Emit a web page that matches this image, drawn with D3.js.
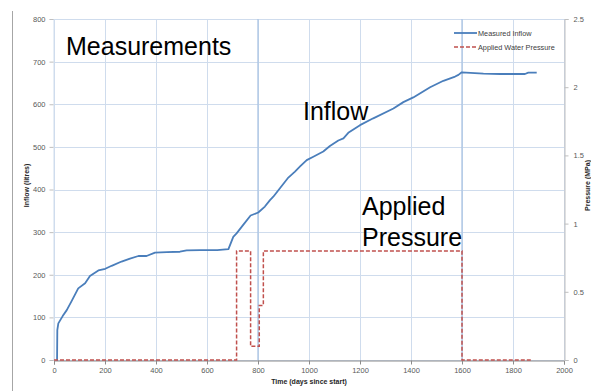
<!DOCTYPE html>
<html>
<head>
<meta charset="utf-8">
<script src="https://cdn.jsdelivr.net/npm/d3@7"></script>
<style>
  html, body { margin: 0; padding: 0; background: #fff; }
  svg { display: block; font-family: "Liberation Sans", Arial, sans-serif; }
</style>
</head>
<body>
<svg id="chart" width="591" height="391"></svg>
<script>
// Cumulative inflow (litres) against time (days since start)
const inflowDays = [10, 12, 13, 17, 34, 50, 69, 95, 122, 141, 174, 201, 226, 265, 298, 331, 363, 396, 442, 494, 520, 573, 640, 684,
  703, 716, 742, 771, 801, 827, 847, 860, 886, 919, 945, 965, 991, 1017, 1056, 1082, 1115, 1135, 1154, 1200, 1252, 1331, 1370,
  1409, 1475, 1527, 1573, 1586, 1599, 1684, 1749, 1847, 1860, 1893];
const inflowLitres = [0, 0, 70, 86, 103, 117, 138, 168, 180, 197, 210, 214, 221, 231, 238, 244, 244, 252, 253, 254, 257, 258, 258, 260,
  289, 297, 317, 339, 346, 360, 375, 383, 403, 428, 442, 454, 469, 477, 489, 502, 515, 520, 533, 551, 567, 590, 605,
  616, 640, 655, 665, 669, 675, 672, 671, 671, 674, 674];

// Applied water pressure (MPa), a stepped schedule
const pressureDays = [0, 716, 716, 771, 771, 805, 805, 821, 821, 1600, 1600, 1873];
const pressureMPa = [0, 0, 0.8, 0.8, 0.1, 0.1, 0.4, 0.4, 0.8, 0.8, 0, 0];

const xTicks = [0, 200, 400, 600, 800, 1000, 1200, 1400, 1600, 1800, 2000];
const leftTicks = [0, 100, 200, 300, 400, 500, 600, 700, 800];
const rightTicks = [0, 0.5, 1, 1.5, 2, 2.5];
const markerDays = [800, 1600];

const svg = d3.select("#chart");
const margin = { left: 54, right: 564, top: 19, bottom: 360 };

const x = d3.scaleLinear().domain([0, 2000]).range([margin.left, margin.right]);
const yL = d3.scaleLinear().domain([0, 800]).range([margin.bottom, margin.top]);
const yR = d3.scaleLinear().domain([0, 2.5]).range([margin.bottom, margin.top]);

// outer frame edge on the left
svg.append("line").attr("x1", 12.5).attr("x2", 12.5).attr("y1", 11).attr("y2", 391)
  .attr("stroke", "#a6a6a6").attr("stroke-width", 1);

// gridlines
const grid = svg.append("g");
grid.selectAll(".hg").data(leftTicks).join("line")
  .attr("x1", margin.left).attr("x2", margin.right)
  .attr("y1", d => Math.round(yL(d)) + 0.5).attr("y2", d => Math.round(yL(d)) + 0.5)
  .attr("stroke", "#cfdced").attr("stroke-width", 1);
grid.selectAll(".vg").data(xTicks).join("line")
  .attr("x1", d => Math.round(x(d)) + 0.5).attr("x2", d => Math.round(x(d)) + 0.5)
  .attr("y1", margin.top).attr("y2", margin.bottom)
  .attr("stroke", "#cfdced").attr("stroke-width", 1);
// event markers
grid.selectAll(".mk").data(markerDays).join("line")
  .attr("x1", d => x(d)).attr("x2", d => x(d))
  .attr("y1", margin.top).attr("y2", margin.bottom)
  .attr("stroke", "#abc4e4").attr("stroke-width", 1.3);

// bottom axis
const xAxis = svg.append("g").attr("transform", `translate(0,${margin.bottom + 0.5})`)
  .call(d3.axisBottom(x).tickValues(xTicks).tickSize(4).tickPadding(3).tickFormat(d3.format("d")));
xAxis.select(".domain").attr("stroke", "#8c8c8c");
xAxis.selectAll(".tick line").attr("stroke", "#8c8c8c");
xAxis.selectAll("text").attr("fill", "#595959").attr("font-size", 7.5).attr("font-family", "Liberation Sans, Arial, sans-serif");

// left axis
const lAxis = svg.append("g").attr("transform", `translate(${margin.left - 0.5},0)`)
  .call(d3.axisLeft(yL).tickValues(leftTicks).tickSize(4).tickPadding(4).tickFormat(d3.format("d")));
lAxis.select(".domain").attr("stroke", "#cfdced");
lAxis.selectAll(".tick line").attr("stroke", "#bfbfbf");
lAxis.selectAll("text").attr("fill", "#595959").attr("font-size", 7.5).attr("font-family", "Liberation Sans, Arial, sans-serif");

// right axis
const rAxis = svg.append("g").attr("transform", `translate(${margin.right + 0.5},0)`)
  .call(d3.axisRight(yR).tickValues(rightTicks).tickSize(4).tickPadding(5).tickFormat(d => d3.format("")(d)));
rAxis.select(".domain").attr("stroke", "#bfbfbf");
rAxis.selectAll(".tick line").attr("stroke", "#bfbfbf");
rAxis.selectAll("text").attr("fill", "#595959").attr("font-size", 7.5).attr("font-family", "Liberation Sans, Arial, sans-serif");

// axis titles
svg.append("text").attr("transform", `translate(29,${(margin.top + margin.bottom) / 2 - 4}) rotate(-90)`)
  .attr("text-anchor", "middle").attr("font-size", 7).attr("font-weight", "bold").attr("fill", "#262626")
  .text("Inflow (litres)");
svg.append("text").attr("transform", `translate(590,${(margin.top + margin.bottom) / 2 - 4}) rotate(-90)`)
  .attr("text-anchor", "middle").attr("font-size", 7).attr("font-weight", "bold").attr("fill", "#262626")
  .text("Pressure (MPa)");
svg.append("text").attr("x", (margin.left + margin.right) / 2).attr("y", 384)
  .attr("text-anchor", "middle").attr("font-size", 7).attr("font-weight", "bold").attr("fill", "#262626")
  .text("Time (days since start)");

// series
const inflowLine = d3.line().x((d, i) => x(inflowDays[i])).y(d => yL(d));
svg.append("path").datum(inflowLitres).attr("d", inflowLine)
  .attr("fill", "none").attr("stroke", "#4a7ebb").attr("stroke-width", 1.8).attr("stroke-linejoin", "round");

const pressureLine = d3.line().x((d, i) => x(pressureDays[i])).y(d => yR(d));
svg.append("path").datum(pressureMPa).attr("d", pressureLine)
  .attr("fill", "none").attr("stroke", "#c0504d").attr("stroke-width", 1.5).attr("stroke-dasharray", "4,2");

// legend
const legend = svg.append("g");
const legendItems = [
  { label: "Measured Inflow", color: "#4a7ebb", dash: null, y: 33 },
  { label: "Applied Water Pressure", color: "#c0504d", dash: "4,2", y: 47 }
];
legendItems.forEach(it => {
  legend.append("line").attr("x1", 454).attr("x2", 477).attr("y1", it.y).attr("y2", it.y)
    .attr("stroke", it.color).attr("stroke-width", it.dash ? 1.5 : 1.8).attr("stroke-dasharray", it.dash);
  legend.append("text").attr("x", 478).attr("y", it.y + 2.6).attr("font-size", 7.3).attr("fill", "#404040")
    .text(it.label);
});

// annotations
const notes = [
  { text: "Measurements", x: 66, y: 55 },
  { text: "Inflow", x: 303, y: 120 },
  { text: "Applied", x: 362, y: 215 },
  { text: "Pressure", x: 362, y: 246 }
];
svg.selectAll(".note").data(notes).join("text")
  .attr("x", d => d.x).attr("y", d => d.y)
  .attr("font-size", 25).attr("fill", "#000")
  .text(d => d.text);
</script>
</body>
</html>
